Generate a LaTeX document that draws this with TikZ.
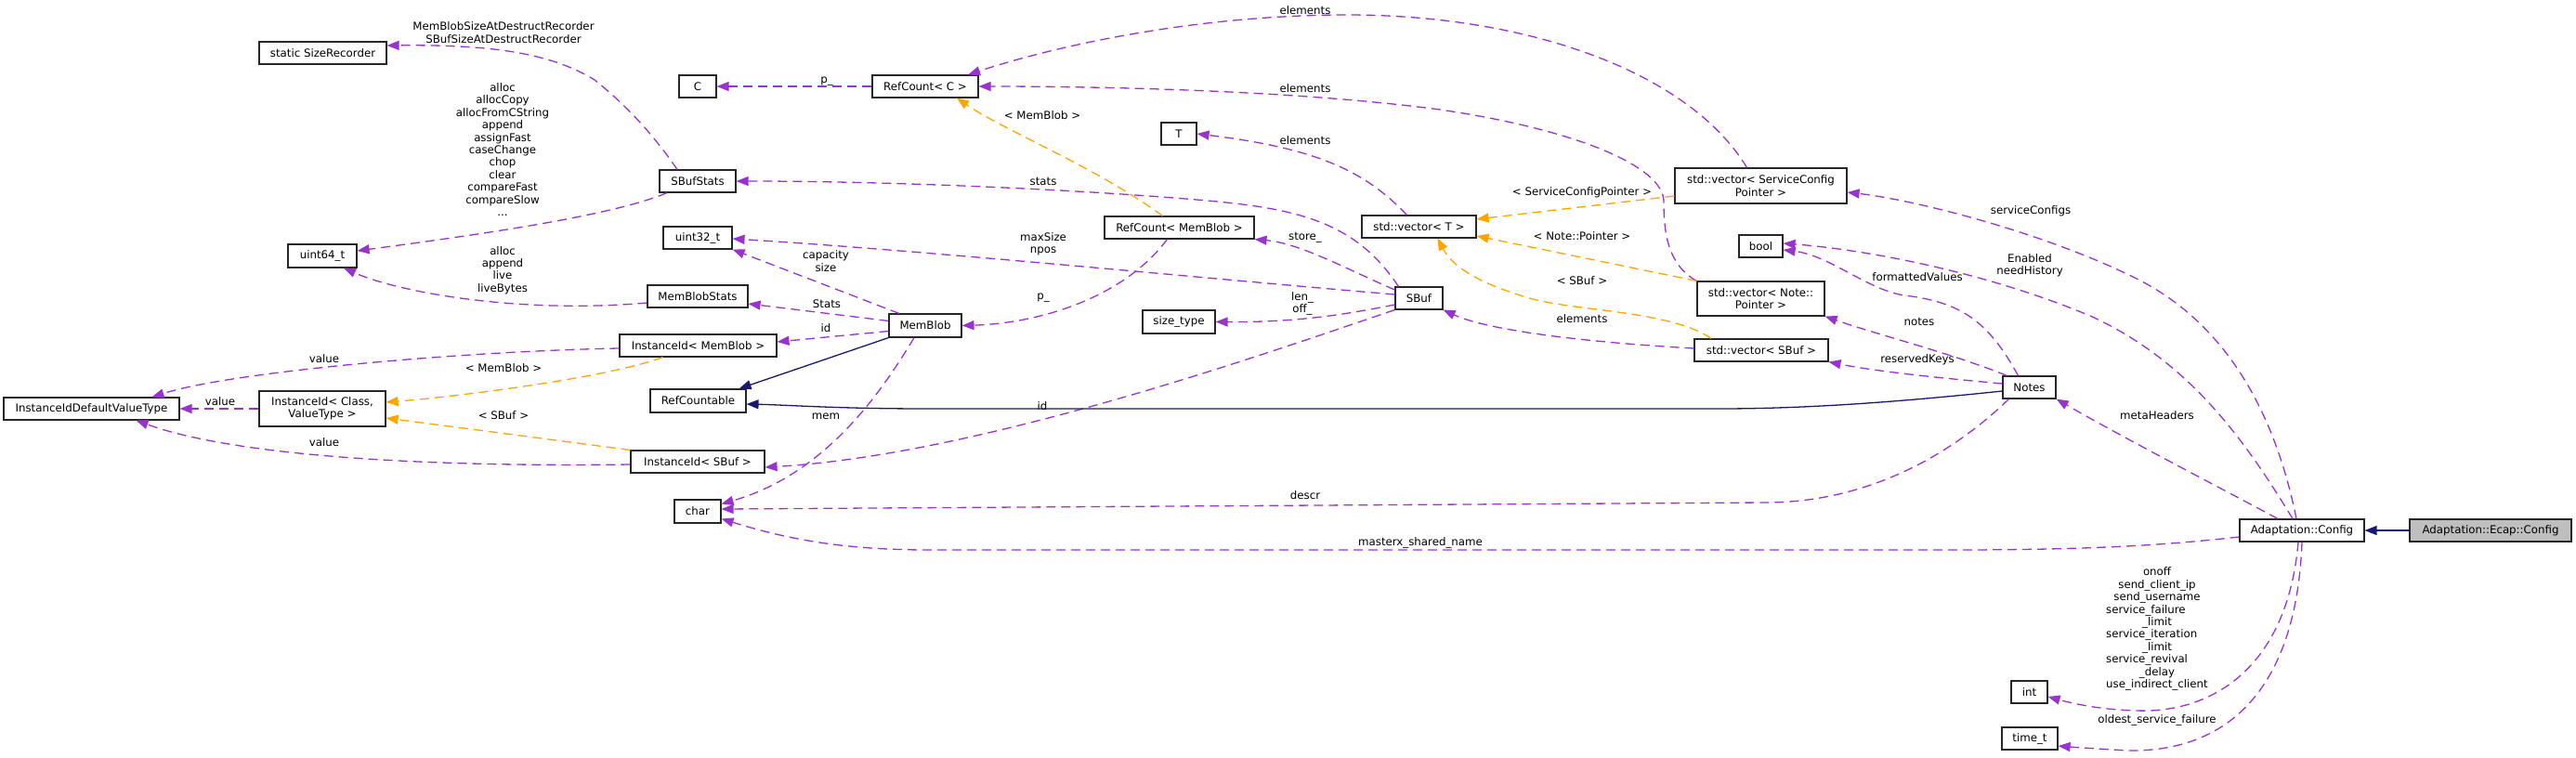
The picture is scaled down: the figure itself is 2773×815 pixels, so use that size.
\documentclass[tikz,border=0pt]{standalone}
\usepackage{fontspec}
\setmainfont{DejaVu Sans}
\usepackage{calc}
\usetikzlibrary{arrows.meta}
\definecolor{depc}{HTML}{9A32CD}
\definecolor{tplc}{HTML}{FFA500}
\definecolor{inhc}{HTML}{191970}
\definecolor{selfc}{HTML}{BFBFBF}
\tikzset{
  cls/.style={draw=black!85, line width=1.1pt, fill=white, inner sep=0pt, align=center, font=\fontsize{11.8}{13.4}\selectfont},
  lbl/.style={inner sep=0pt, align=center, font=\fontsize{11.8}{13.4}\selectfont},
  dep/.style={draw=depc, line width=1.3pt, dash pattern=on 10pt off 6pt, -{Triangle[length=13pt,width=10pt]}},
  tpl/.style={dep, draw=tplc},
  inh/.style={draw=inhc, line width=1.3pt, -{Triangle[length=13pt,width=10pt]}},
}
\begin{document}
\begin{tikzpicture}[x=1pt,y=-1pt]
\useasboundingbox (0,0) rectangle (2773,815);
% ---------- classes ----------
\node[cls, minimum width=137pt, minimum height=24pt] (sr) at (347.5,57) {static SizeRecorder};
\node[cls, minimum width=74pt, minimum height=25pt] (u64) at (347,275.5) {uint64\_t};
\node[cls, minimum width=189pt, minimum height=24pt] (iidvt) at (98.5,440) {InstanceIdDefaultValueType};
\node[cls, minimum width=136pt, minimum height=38pt] (iicv) at (347,440) {InstanceId< Class,\\ValueType >};
\node[cls, minimum width=40pt, minimum height=24pt] (C) at (751,93) {C};
\node[cls, minimum width=114pt, minimum height=24pt] (rcC) at (996,93) {RefCount< C >};
\node[cls, minimum width=38pt, minimum height=24pt] (T) at (1269,144) {T};
\node[cls, minimum width=82pt, minimum height=24pt] (sbs) at (751,195) {SBufStats};
\node[cls, minimum width=161pt, minimum height=24pt] (rcMB) at (1269.5,245) {RefCount< MemBlob >};
\node[cls, minimum width=74pt, minimum height=24pt] (u32) at (751,256) {uint32\_t};
\node[cls, minimum width=108pt, minimum height=24pt] (mbs) at (751,319) {MemBlobStats};
\node[cls, minimum width=78pt, minimum height=25pt] (mb) at (996,350.5) {MemBlob};
\node[cls, minimum width=169pt, minimum height=24pt] (iidMB) at (751.5,372) {InstanceId< MemBlob >};
\node[cls, minimum width=78pt, minimum height=25pt] (st) at (1269,346.5) {size\_type};
\node[cls, minimum width=103pt, minimum height=25pt] (rc) at (751.5,431.5) {RefCountable};
\node[cls, minimum width=144pt, minimum height=24pt] (iidSB) at (751,497) {InstanceId< SBuf >};
\node[cls, minimum width=50pt, minimum height=25pt] (chr) at (751,550.5) {char};
\node[cls, minimum width=185pt, minimum height=38pt] (vSCP) at (1895.5,200) {std::vector< ServiceConfig\\Pointer >};
\node[cls, minimum width=123pt, minimum height=24pt] (vT) at (1527.5,244) {std::vector< T >};
\node[cls, minimum width=47pt, minimum height=24pt] (bool) at (1895.5,265) {bool};
\node[cls, minimum width=51pt, minimum height=24pt] (sbuf) at (1527.5,321) {SBuf};
\node[cls, minimum width=137pt, minimum height=37pt] (vNP) at (1895.5,321.5) {std::vector< Note::\\Pointer >};
\node[cls, minimum width=144pt, minimum height=24pt] (vSB) at (1896,377) {std::vector< SBuf >};
\node[cls, minimum width=57pt, minimum height=24pt] (notes) at (2184.5,417) {Notes};
\node[cls, minimum width=134pt, minimum height=24pt] (ac) at (2478,571) {Adaptation::Config};
\node[cls, fill=selfc, minimum width=174pt, minimum height=24pt] (aec) at (2681,571) {Adaptation::Ecap::Config};
\node[cls, minimum width=39pt, minimum height=24pt] (int) at (2184.5,745) {int};
\node[cls, minimum width=60pt, minimum height=24pt] (tt) at (2185,795) {time\_t};
% ---------- labels ----------
\node[lbl] (l1) at (542,35) {MemBlobSizeAtDestructRecorder\\SBufSizeAtDestructRecorder};
\node[lbl] (l2) at (541,161) {alloc\\allocCopy\\allocFromCString\\append\\assignFast\\caseChange\\chop\\clear\\compareFast\\compareSlow\\...};
\node[lbl] (l3) at (541,291) {alloc\\append\\live\\liveBytes};
\node[lbl] (l4) at (349,386) {value};
\node[lbl] (l5) at (542,396) {< MemBlob >};
\node[lbl] (l6) at (237,432) {value};
\node[lbl] (l7) at (542,447) {< SBuf >};
\node[lbl] (l8) at (349,476) {value};
\node[lbl] (l9) at (890,88) {p\_};
\node[lbl] (l10) at (1122,124) {< MemBlob >};
\node[lbl] (l11) at (1123,195) {stats};
\node[lbl] (l12) at (1123,263) {maxSize\\npos};
\node[lbl] (l13) at (889,281) {capacity\\size};
\node[lbl] (l14) at (890,327) {Stats};
\node[lbl] (l15) at (1123,321) {p\_};
\node[lbl] (l16) at (889,353) {id};
\node[lbl] (l17) at (889,448) {mem};
\node[lbl] (l18) at (1122,437) {id};
\node[lbl] (l19) at (1405,11) {elements};
\node[lbl] (l20) at (1405,95) {elements};
\node[lbl] (l21) at (1405,151) {elements};
\node[lbl] (l22) at (1703,207) {< ServiceConfigPointer >};
\node[lbl] (l23) at (1405,256) {store\_};
\node[lbl] (l24) at (1703,254) {< Note::Pointer >};
\node[lbl] (l25) at (1402,327) {len\_\\off\_};
\node[lbl] (l26) at (1703,302) {< SBuf >};
\node[lbl] (l27) at (1703,343) {elements};
\node[lbl] (l28) at (2064,298) {formattedValues};
\node[lbl] (l29) at (2066,346) {notes};
\node[lbl] (l30) at (2064,387) {reservedKeys};
\node[lbl] (l31) at (2186,227) {serviceConfigs};
\node[lbl] (l32) at (2185,286) {Enabled\\needHistory};
\node[lbl] (l33) at (2322,447) {metaHeaders};
\node[lbl] (l34) at (2322,677) {onoff\\send\_client\_ip\\send\_username\\\makebox[\widthof{use\_indirect\_client}][l]{service\_failure}\\\_limit\\\makebox[\widthof{use\_indirect\_client}][l]{service\_iteration}\\\_limit\\\makebox[\widthof{use\_indirect\_client}][l]{service\_revival}\\\_delay\\use\_indirect\_client};
\node[lbl] (l35) at (2322,775) {oldest\_service\_failure};
\node[lbl] (l36) at (1405,533) {descr};
\node[lbl] (l37) at (1529,584) {masterx\_shared\_name};
% ---------- usage edges ----------
\draw[dep] ([xshift=-22pt]sbs.north) .. controls (700,140) and (670,110) .. (640,86) .. controls (590,55) and (520,48) .. ([yshift=8pt]sr.east);
\draw[dep] ([xshift=-33pt]sbs.south) .. controls (660,232) and (520,252) .. ([yshift=5.5pt]u64.east);
\draw[dep] ([yshift=-7pt]mbs.west) .. controls (560,338) and (430,315) .. ([xshift=23pt]u64.south);
\draw[dep] ([yshift=-3pt]iidMB.west) .. controls (500,378) and (250,400) .. ([xshift=65pt]iidvt.north);
\draw[dep] (iicv.west) -- (iidvt.east);
\draw[dep] ([yshift=-3pt]iidSB.west) .. controls (450,503) and (250,490) .. ([xshift=48pt]iidvt.south);
\draw[dep] (rcC.west) -- (C.east);
\draw[dep] ([xshift=-15pt]vSCP.north) .. controls (1820,80) and (1650,16) .. (1450,16) .. controls (1300,16) and (1150,45) .. ([xshift=46pt]rcC.north);
\draw[dep] (vNP.north west) .. controls (1795,285) and (1791,250) .. (1791,217) .. controls (1791,180) and (1700,140) .. (1550,118) .. controls (1400,98) and (1200,93) .. (rcC.east);
\draw[dep] ([xshift=-13pt]vT.north) .. controls (1470,185) and (1420,160) .. (T.east);
\draw[dep] ([xshift=-22pt]sbuf.north) .. controls (1460,240) and (1400,225) .. (1300,216) .. controls (1150,203) and (950,195) .. (sbs.east);
\draw[dep] ([yshift=4pt]sbuf.west) .. controls (1300,300) and (1000,270) .. ([yshift=-1pt]u32.east);
\draw[dep] ([yshift=9pt]sbuf.west) .. controls (1450,290) and (1400,262) .. (rcMB.south east);
\draw[dep] ([yshift=-7pt]sbuf.west) .. controls (1450,338) and (1400,347) .. (st.east);
\draw[dep] (sbuf.south west) .. controls (1350,385) and (1050,490) .. ([yshift=-6pt]iidSB.east);
\draw[dep] ([xshift=-13pt]rcMB.south) .. controls (1210,320) and (1120,348) .. (mb.east);
\draw[dep] ([xshift=-28pt]mb.north) -- (u32.south east);
\draw[dep] ([yshift=5pt]mb.west) -- ([yshift=-8pt]mbs.east);
\draw[dep] ([yshift=-6pt]mb.west) -- ([yshift=4pt]iidMB.east);
\draw[dep] ([xshift=-12pt]mb.south) .. controls (950,420) and (890,510) .. ([yshift=8pt]chr.east);
\draw[dep] ([xshift=7pt]notes.south west) .. controls (2100,490) and (2010,541) .. (1900,541) -- ([yshift=2.5pt]chr.east);
\draw[dep] ([yshift=-7pt]ac.west) .. controls (2330,587) and (2250,592) .. (2100,592) -- (1000,592) .. controls (900,592) and (840,578) .. ([yshift=-8pt]chr.east);
\draw[dep] ([yshift=2pt]vSB.west) .. controls (1700,368) and (1600,355) .. (sbuf.south east);
\draw[dep] ([xshift=-12pt]notes.north) .. controls (2140,345) and (2110,325) .. (2050,318) .. controls (2010,312) and (1970,275) .. ([yshift=-4pt]bool.east);
\draw[dep] ([xshift=5pt]notes.north west) .. controls (2100,380) and (2020,360) .. (vNP.south east);
\draw[dep] ([yshift=4pt]notes.west) .. controls (2090,407) and (2020,400) .. (vSB.south east);
\draw[dep] ([xshift=-6pt]ac.north) .. controls (2450,450) and (2400,350) .. (2300,300) .. controls (2200,250) and (2060,215) .. ([yshift=-7pt]vSCP.east);
\draw[dep] ([xshift=-10pt]ac.north) .. controls (2420,480) and (2360,390) .. (2250,340) .. controls (2130,290) and (2000,268) .. ([yshift=3pt]bool.east);
\draw[dep] ([xshift=-26pt]ac.north) .. controls (2380,520) and (2280,468) .. (notes.south east);
\draw[dep] ([xshift=-4pt]ac.south) .. controls (2462,720) and (2380,768) .. (2300,765) .. controls (2260,764) and (2230,757) .. ([yshift=-5pt]int.east);
\draw[dep] (ac.south) .. controls (2472,740) and (2400,810) .. (2290,808) .. controls (2260,806) and (2240,805) .. ([yshift=-8pt]tt.east);
% ---------- template instances ----------
\draw[tpl] ([xshift=-38pt]iidMB.south) .. controls (650,408) and (480,428) .. ([yshift=7pt]iicv.east);
\draw[tpl] (iidSB.north west) -- ([yshift=-10pt]iicv.east);
\draw[tpl] ([xshift=-18pt]rcMB.north) .. controls (1180,180) and (1080,140) .. ([xshift=34pt]rcC.south);
\draw[tpl] ([yshift=-11pt]vSCP.west) -- ([yshift=8pt]vT.east);
\draw[tpl] (vNP.north west) -- ([yshift=-10pt]vT.east);
\draw[tpl] ([xshift=-54pt]vSB.north) .. controls (1800,335) and (1700,335) .. (1650,322) .. controls (1600,308) and (1565,290) .. ([xshift=20pt]vT.south);
% ---------- inheritance ----------
\draw[inh] (mb.south west) -- ([xshift=-8pt]rc.north east);
\draw[inh] ([yshift=-4pt]notes.west) .. controls (2050,432) and (1950,440) .. (1850,440) -- (1000,440) .. controls (900,440) and (850,436) .. ([yshift=-3.5pt]rc.east);
\draw[inh] (aec.west) -- (ac.east);
\end{tikzpicture}
\end{document}
